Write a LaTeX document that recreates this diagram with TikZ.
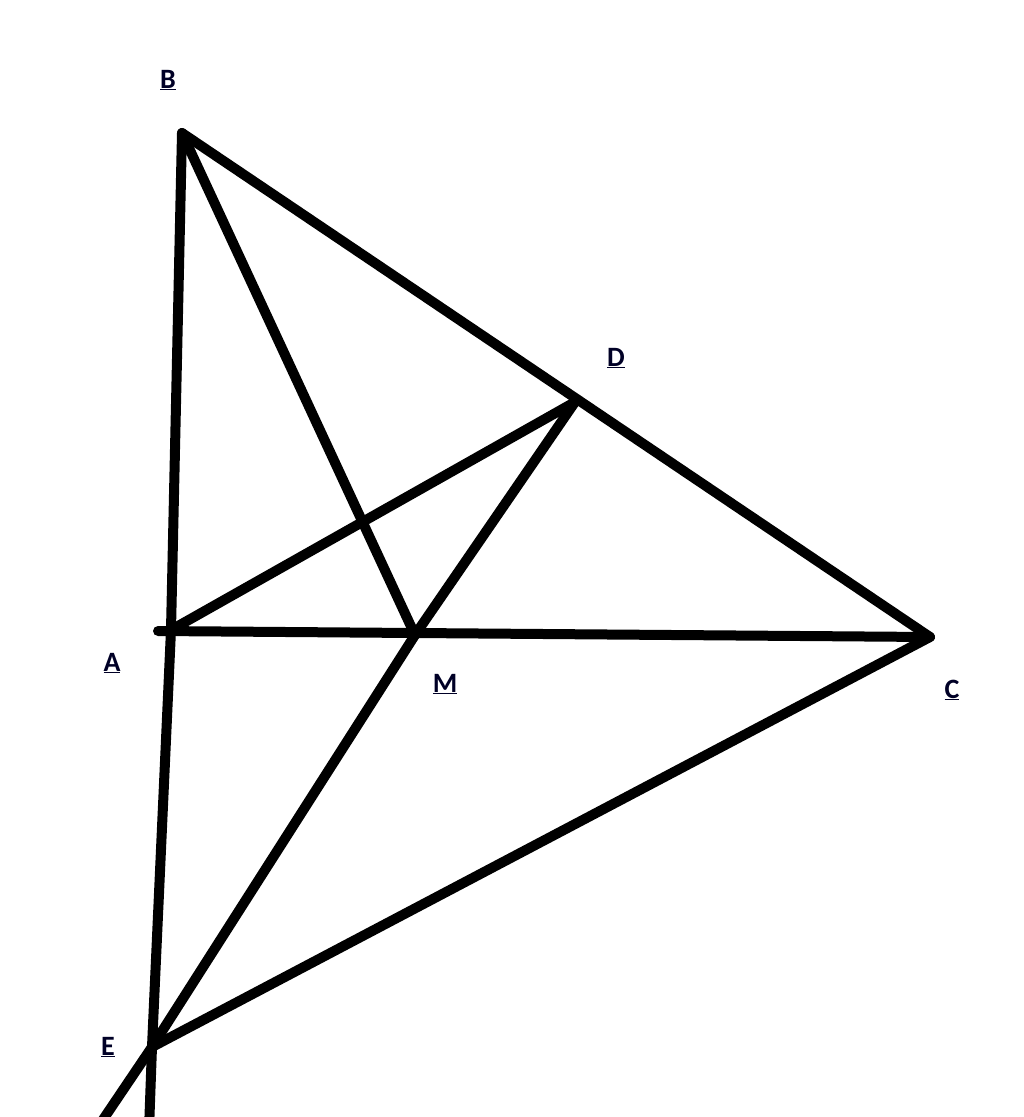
\documentclass[tikz,border=0pt]{standalone}
\usepackage{fontspec}
\setmainfont{Carlito}
\tikzset{
  seg/.style={line width=10pt, line cap=round, line join=round, black},
  lbl/.style={font=\bfseries\fontsize{28}{30}\selectfont, text=black!85!blue, inner sep=0pt}
}
\newcommand{\ul}[1]{\underline{#1}}
\begin{document}
\begin{tikzpicture}[x=1pt,y=-1pt]
\useasboundingbox (0,0) rectangle (1024,1117);
\clip (0,0) rectangle (1024,1117);
\coordinate (B) at (182,133);
\coordinate (A) at (171,630);
\coordinate (A0) at (158,631);
\coordinate (C) at (930,637);
\coordinate (D) at (575,402);
\coordinate (M) at (415,635);
\coordinate (E) at (152,1047);
\coordinate (Eb) at (149,1130);
\coordinate (Mb) at (96,1130);
\draw[seg] (B) -- (A) -- (E) -- (Eb);
\draw[seg] (B) -- (C);
\draw[seg] (B) -- (M);
\draw[seg] (A0) -- (C);
\draw[seg] (A) -- (D);
\draw[seg] (D) -- (M);
\draw[seg] (M) -- (E) -- (Mb);
\draw[seg] (C) -- (E);
\node[lbl] (lB) at (168,80) {\ul{B}};
\node[lbl] (lD) at (616,358) {\ul{D}};
\node[lbl] (lA) at (112,663) {\ul{A}};
\node[lbl] (lM) at (445,684) {\ul{M}};
\node[lbl] (lC) at (952,690) {\ul{C}};
\node[lbl] (lE) at (108,1047) {\ul{E}};
\end{tikzpicture}
\end{document}
